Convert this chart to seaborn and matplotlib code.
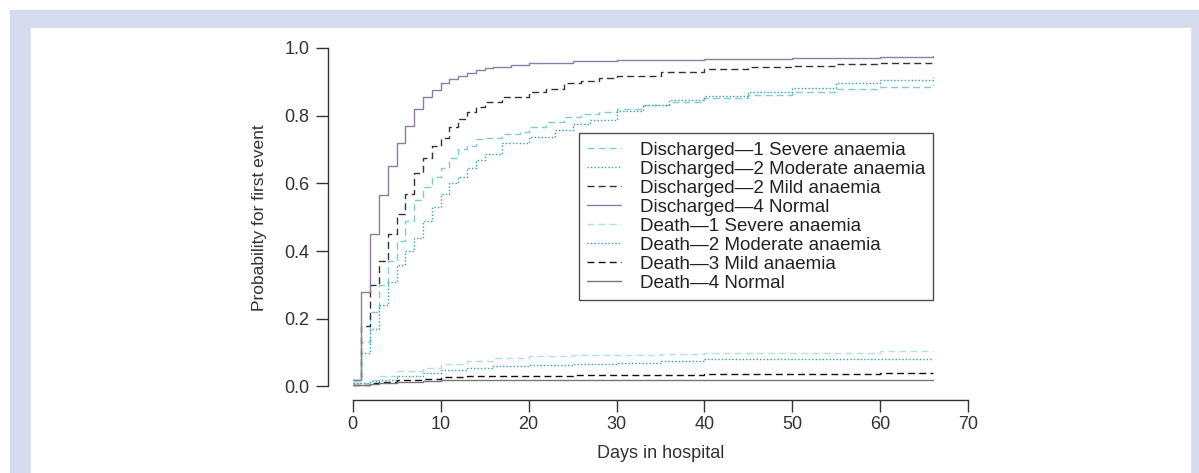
"""
Cumulative incidence of first event (discharge / death) by anaemia group
"""

import numpy as np
import matplotlib.pyplot as plt
import matplotlib.patches as mpatches
import seaborn as sns

sns.set_theme(style="white")
plt.rcParams["font.family"] = ["Liberation Sans", "DejaVu Sans"]

# ---- data ----
days_severe = [0, 1, 2, 3, 4, 5, 6, 7, 8, 9, 10, 11, 12, 13, 14, 15, 17, 19, 20, 22, 24, 26, 28, 30,
               33, 36, 40, 45, 50, 55, 60, 66]
dis_severe = [0.01, 0.13, 0.22, 0.30, 0.37, 0.43, 0.49, 0.55, 0.59, 0.62, 0.646, 0.675, 0.70, 0.71, 0.73,
              0.735, 0.745, 0.752, 0.765, 0.78, 0.797, 0.805, 0.81, 0.82, 0.83, 0.84, 0.852, 0.862, 0.87,
              0.878, 0.885, 0.893]

days_moderate = [0, 1, 2, 3, 4, 5, 6, 7, 8, 9, 10, 11, 12, 13, 14, 15, 17, 20, 23, 25, 27, 30, 33, 36,
                 40, 45, 50, 55, 60, 66]
dis_moderate = [0.01, 0.10, 0.17, 0.24, 0.31, 0.36, 0.40, 0.44, 0.49, 0.53, 0.57, 0.60, 0.62, 0.646, 0.67,
                0.686, 0.72, 0.737, 0.758, 0.775, 0.787, 0.815, 0.83, 0.845, 0.857, 0.87, 0.882, 0.895,
                0.905, 0.915]

days_mild = [0, 1, 2, 3, 4, 5, 6, 7, 8, 9, 10, 11, 12, 13, 14, 15, 17, 20, 22, 24, 26, 28, 30, 35, 40,
             45, 50, 55, 60, 66]
dis_mild = [0.02, 0.18, 0.30, 0.37, 0.45, 0.51, 0.57, 0.63, 0.675, 0.71, 0.735, 0.765, 0.79, 0.81, 0.826,
            0.84, 0.855, 0.87, 0.88, 0.895, 0.903, 0.91, 0.917, 0.928, 0.937, 0.943, 0.948, 0.952,
            0.956, 0.959]

days_normal = [0, 1, 2, 3, 4, 5, 6, 7, 8, 9, 10, 11, 12, 13, 14, 15, 16, 18, 20, 25, 30, 40, 50, 60, 66]
dis_normal = [0.02, 0.28, 0.45, 0.566, 0.65, 0.72, 0.77, 0.82, 0.855, 0.876, 0.897, 0.909, 0.917, 0.926,
              0.935, 0.941, 0.944, 0.95, 0.956, 0.962, 0.965, 0.968, 0.97, 0.973, 0.975]

days_death = [0, 2, 3, 5, 8, 10, 13, 16, 20, 25, 30, 35, 40, 50, 60, 66]
death_severe = [0.01, 0.02, 0.03, 0.045, 0.055, 0.065, 0.075, 0.085, 0.09, 0.092, 0.094, 0.097, 0.10,
                0.10, 0.105, 0.105]
death_moderate = [0.01, 0.015, 0.02, 0.03, 0.04, 0.05, 0.055, 0.06, 0.062, 0.066, 0.07, 0.075, 0.08,
                  0.08, 0.08, 0.08]
death_mild = [0.005, 0.01, 0.012, 0.018, 0.022, 0.027, 0.03, 0.03, 0.032, 0.034, 0.035, 0.035, 0.036,
              0.038, 0.04, 0.04]
death_normal = [0.005, 0.008, 0.01, 0.014, 0.017, 0.019, 0.02, 0.02, 0.02, 0.02, 0.02, 0.02, 0.02,
                0.02, 0.02, 0.02]

labels = [
    "Discharged\u20141 Severe anaemia",
    "Discharged\u20142 Moderate anaemia",
    "Discharged\u20142 Mild anaemia",
    "Discharged\u20144 Normal",
    "Death\u20141 Severe anaemia",
    "Death\u20142 Moderate anaemia",
    "Death\u20143 Mild anaemia",
    "Death\u20144 Normal",
]
series = [
    (days_severe, dis_severe), (days_moderate, dis_moderate), (days_mild, dis_mild),
    (days_normal, dis_normal),
    (days_death, death_severe), (days_death, death_moderate), (days_death, death_mild),
    (days_death, death_normal),
]
styles = [
    ("#7fcfcf", (0, (5, 3))),
    ("#2ea3a8", (0, (1, 1.5))),
    ("#333333", (0, (5, 3))),
    ("#8c7fa0", "-"),
    ("#b5e0e0", (0, (5, 3))),
    ("#2ea3a8", (0, (1, 1.5))),
    ("#111111", (0, (5, 3))),
    ("#777777", "-"),
]

W, H = 1199, 473
fig = plt.figure(figsize=(W / 100, H / 100), dpi=100)
fig.patch.set_facecolor("white")
# light blue frame around the panel
fig.add_artist(mpatches.Rectangle((10 / W, 0), (W - 10) / W, (H - 10) / H,
                                  transform=fig.transFigure, color="#d4dced", zorder=-2))
fig.add_artist(mpatches.Rectangle((31 / W, 0), (1190 - 31) / W, (H - 28) / H,
                                  transform=fig.transFigure, color="white", zorder=-1))

ax = fig.add_axes([328 / W, 1 - 400 / H, (993 - 328) / W, (400 - 34.4) / H])
ax.set_facecolor("none")

handles = []
for (x, y), lab, (col, ls) in zip(series, labels, styles):
    sns.lineplot(x=x, y=y, ax=ax, drawstyle="steps-post", color=col,
                 linestyle=ls, linewidth=1.0, errorbar=None)
    handles.append(plt.Line2D([], [], color=col, linestyle=ls, linewidth=1.0))

ax.set_xlim(-2.8, 72.8)
ax.set_ylim(-0.04, 1.04)
ax.set_xticks(np.arange(0, 71, 10))
ax.set_yticks(np.arange(0, 1.01, 0.2))
ax.set_yticklabels([f"{v:.1f}" for v in np.arange(0, 1.01, 0.2)])

for s in ["top", "right"]:
    ax.spines[s].set_visible(False)
ax.spines["left"].set_bounds(0, 1)
ax.spines["bottom"].set_bounds(0, 70)
for s in ["left", "bottom"]:
    ax.spines[s].set_color("#333333")
    ax.spines[s].set_linewidth(1.0)
ax.tick_params(axis="both", direction="out", length=8.5, width=1.0, color="#333333",
               labelsize=13, labelcolor="#333333", bottom=True, left=True)
ax.tick_params(axis="x", pad=3)
ax.tick_params(axis="y", pad=5)

ax.set_xlabel("Days in hospital", fontsize=13, color="#333333", labelpad=9)
ax.set_ylabel("Probability for first event", fontsize=12.5, color="#333333", labelpad=12)

leg = ax.legend(handles, labels, loc="upper left", bbox_to_anchor=(0.377, 0.730),
                fontsize=13.5, frameon=True, fancybox=False, edgecolor="#222222",
                handlelength=1.8, handletextpad=1.0, labelspacing=0.1,
                borderpad=0.45, borderaxespad=0)
leg.get_frame().set_linewidth(1.0)
for t in leg.get_texts():
    t.set_color("#222222")

fig.savefig("out.png", dpi=100)
